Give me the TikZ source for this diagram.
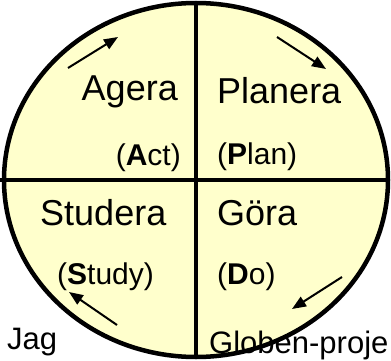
\documentclass[tikz,border=0pt]{standalone}
\usepackage{fontspec}
\setmainfont{Liberation Sans}
\usetikzlibrary{arrows.meta,positioning}
\definecolor{cycleYellow}{RGB}{255,255,204}
\tikzset{
phase/.style = {inner sep=0pt, font=\fontsize{36}{40}\selectfont},
sub/.style   = {inner sep=0pt, font=\fontsize{30}{34}\selectfont},
note/.style  = {inner sep=0pt, font=\fontsize{31}{34}\selectfont},
turn/.style  = {-{Triangle[length=14pt,width=11pt]}, line width=2pt},
divider/.style = {line width=4.5pt}
}

\begin{document}
\begin{tikzpicture}[x=1pt,y=-1pt]
  \useasboundingbox (0,0) rectangle (391,361);
  \coordinate (mid)    at (196,180);
  \coordinate (top)    at (196,3);
  \coordinate (bottom) at (196,357);
  \coordinate (left)   at (0,180);
  \coordinate (right)  at (388,180);

  % the wheel
  \draw [divider, fill=cycleYellow] (mid) ellipse [x radius=192, y radius=177];
  \draw [divider] (top) -- (bottom);
  \draw [divider] (left) -- (right);

  % quadrant texts
  \node [phase, anchor=base east] (agera)   at (178,100) {Agera};
  \node [sub,   anchor=base east] (act)     at (181,165) {(\textbf{A}ct)};
  \node [phase, anchor=base west] (planera) at (217,103) {Planera};
  \node [sub,   anchor=base west] (plan)    at (217,164) {(\textbf{P}lan)};
  \node [phase, anchor=base west] (studera) at (40,225)  {Studera};
  \node [sub,   anchor=base west] (study)   at (57,284)  {(\textbf{S}tudy)};
  \node [phase, anchor=base west] (gora)    at (217,225) {Göra};
  \node [sub,   anchor=base west] (do)      at (217,284) {(\textbf{D}o)};

  \node [note, anchor=base west] (jag)    at (7,349)   {Jag};
  \node [note, anchor=base west] (globen) at (209,353) {Globen-proje};

  % turning arrows
  \coordinate (actA)   at (68,68);
  \coordinate (actB)   at (118,37);
  \coordinate (planA)  at (277,37);
  \coordinate (planB)  at (326,69);
  \coordinate (doA)    at (342,277);
  \coordinate (doB)    at (292,309);
  \coordinate (studyA) at (117,325);
  \coordinate (studyB) at (69,292);
  \draw [turn] (actA) -- (actB);
  \draw [turn] (planA) -- (planB);
  \draw [turn] (doA) -- (doB);
  \draw [turn] (studyA) -- (studyB);
\end{tikzpicture}
\end{document}
